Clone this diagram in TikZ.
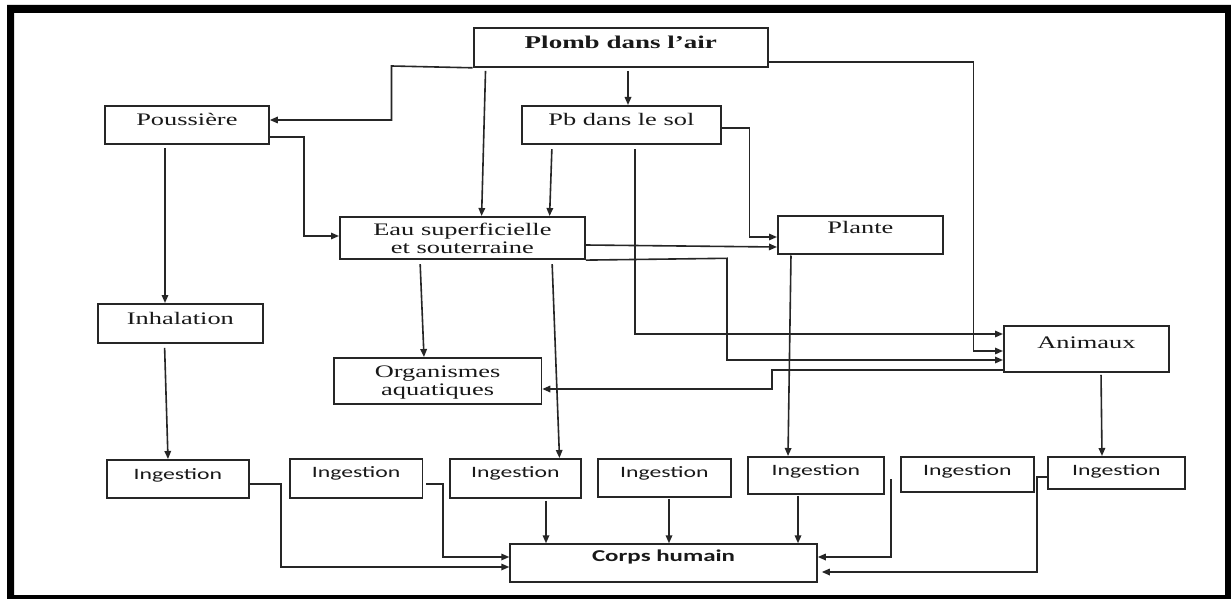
\documentclass[tikz,border=0pt]{standalone}
\usepackage{fontspec}
\setmainfont{Liberation Serif}[FakeStretch=1.5]
\newfontfamily\calfont{Carlito}[FakeStretch=1.5]
\usetikzlibrary{arrows.meta}

\colorlet{ink}{black!85}

% Lead pathways flow chart; units are 1pt, y grows downward
\tikzset{
  box/.style={draw=ink, line width=1.8pt, inner sep=0pt, text=black!90,
              anchor=north west, align=center},
  serif/.style={font=\fontsize{17.6}{18}\selectfont},
  title/.style={font=\fontsize{18}{18}\selectfont\bfseries},
  ingbox/.style={font=\calfont\fontsize{15.8}{16}\selectfont},
  bodybox/.style={font=\calfont\fontsize{16.6}{17}\selectfont\bfseries},
  arr/.style={draw=ink, line width=1.6pt, -{Triangle[length=8pt,width=6.5pt]}},
}

% \flowbox{name}{left}{top}{width}{text height}{text depth}{style}{text}
\newcommand\flowbox[8]{%
  \node[box, #7, minimum width=#4pt, text height=#5pt, text depth=#6pt]
    (#1) at (#2,#3) {#8};}

\begin{document}
\begin{tikzpicture}[x=1pt, y=-1pt]
\useasboundingbox (0,0) rectangle (1231,599);
\fill[white] (0,0) rectangle (1231,599);

% outer frame
\fill[black, even odd rule] (7,5) rectangle (1231,599) (14,13) rectangle (1225,595);

% boxes
\flowbox{plomb}{472.7}{27.3}{294.3}{20}{18.7}{title}{Plomb dans l’air}
\flowbox{pous}{104}{105}{164}{19.3}{19}{serif}{Poussière}
\flowbox{pbsol}{521}{105}{199}{19.3}{19}{serif}{Pb dans le sol}
\flowbox{eau}{339}{216}{245}{19}{23.3}{serif}{\begin{tabular}[t]{@{}c@{}}Eau superficielle\\et souterraine\end{tabular}}
\flowbox{plante}{777}{215}{165}{17.7}{20}{serif}{Plante}
\flowbox{inhal}{97}{303}{165}{20.3}{18.7}{serif}{Inhalation}
\flowbox{org}{333}{357}{207.5}{19.7}{26.3}{serif}{\begin{tabular}[t]{@{}c@{}}Organismes\\aquatiques\end{tabular}}
\flowbox{anim}{1003}{325}{165}{23}{23}{serif}{Animaux}
\flowbox{ing1}{106}{459}{142}{19.3}{18.7}{ingbox}{Ingestion}
\flowbox{ing2}{289}{458}{132.5}{18.7}{20.3}{ingbox}{Ingestion}
\flowbox{ing3}{449}{458}{131}{18.7}{20.3}{ingbox}{Ingestion}
\flowbox{ing4}{597}{458}{133}{18.7}{19.3}{ingbox}{Ingestion}
\flowbox{ing5}{747}{456}{136}{18.3}{18.7}{ingbox}{Ingestion}
\flowbox{ing6}{900}{456}{133}{18.3}{16.7}{ingbox}{Ingestion}
\flowbox{ing7}{1047}{456}{137}{18.3}{13.7}{ingbox}{Ingestion}
\flowbox{corps}{509.3}{543.3}{306.7}{17.4}{20.3}{bodybox}{Corps humain}

% free end of the sixth ingestion link
\coordinate (t6) at (891,479);

% connectors from the air
\draw[arr] (plomb.south west) -- (391.5,66) -- (391.5,120) -- (pous.east |- 0,120);
\draw[arr, shorten <=3pt] (plomb.south -| 485.6,0) -- (eau.north -| 481.6,0);
\draw[arr, shorten <=3pt] (plomb.south -| 628,0) -- (pbsol.north -| 628,0);
\draw[arr] (plomb.east |- 0,62) -- (973.6,62) -- (973.6,351) -- (anim.west |- 0,351);

% dust
\draw[arr] (pous.east |- 0,137) -- (303.7,137) -- (303.7,236) -- (eau.west |- 0,236);
\draw[arr, shorten <=3pt] (pous.south -| 165,0) -- (inhal.north -| 165,0);

% soil
\draw[arr, shorten <=4pt] (pbsol.south -| 552,0) -- (eau.north -| 549.6,0);
\draw[arr] (pbsol.east |- 0,128) -- (749.4,128) -- (749.4,237) -- (plante.west |- 0,237);
\draw[arr, shorten <=4pt] (pbsol.south -| 635,0) -- (635,334) -- (anim.west |- 0,334);

% water
\draw[arr] (eau.east |- 0,245) -- (plante.west |- 0,247);
\draw[arr] (eau.south east) -- (727,258.3) -- (727,360) -- (anim.west |- 0,360);
\draw[arr, shorten <=4pt] (eau.south -| 420,0) -- (org.north -| 424,0);
\draw[arr, shorten <=4pt] (eau.south -| 552,0) -- (ing3.north -| 559.5,0);

% plants and animals
\draw[arr, shorten <=1pt] (plante.south -| 791,0) -- (ing5.north -| 788,0);
\draw[arr] (anim.west |- 0,370) -- (772,370) -- (772,389) -- (org.east |- 0,389);
\draw[arr, shorten <=2pt] (anim.south -| 1101,0) -- (ing7.north -| 1102,0);

% inhalation
\draw[arr, shorten <=4pt] (inhal.south -| 164.5,0) -- (ing1.north -| 168,0);

% to the human body
\draw[arr] (ing1.east |- 0,484) -- (281,484) -- (281,567) -- (corps.west |- 0,567);
\draw[arr, shorten <=3pt] (ing2.east |- 0,484) -- (443,484) -- (443,557) -- (corps.west |- 0,557);
\draw[arr, shorten <=2pt] (ing3.south -| 546,0) -- (corps.north -| 546,0);
\draw[arr, shorten <=1pt] (ing4.south -| 669,0) -- (corps.north -| 669,0);
\draw[arr, shorten <=1pt] (ing5.south -| 798,0) -- (corps.north -| 798,0);
\draw[arr] (t6) -- (891,557) -- (corps.east |- 0,557);
\draw[arr] (ing7.west |- 0,477) -- (1037,477) -- (1037,572) -- ([xshift=4pt]corps.east |- 0,572);
\end{tikzpicture}
\end{document}
